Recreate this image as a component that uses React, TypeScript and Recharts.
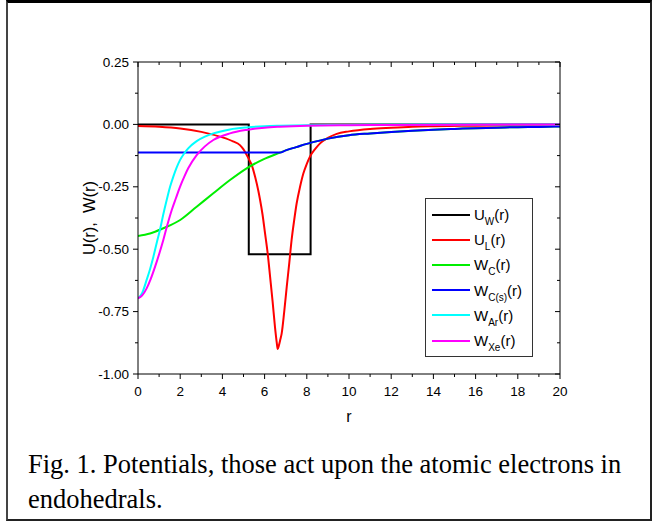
import React from "react";
import { LineChart, Line, XAxis, YAxis, Legend } from "recharts";

// r grid and values, one pair of arrays per curve
const rUW = [0, 5.25, 5.25, 8.18, 8.18, 20];
const vUW = [0, 0, -0.52, -0.52, 0, 0];

const rUL = [0, 1, 2, 3, 3.5, 4, 4.5, 4.83, 5.0, 5.23, 5.4, 5.55, 5.7, 5.78, 5.9, 6.02, 6.15, 6.26, 6.38, 6.49, 6.57, 6.62, 6.68, 6.75, 6.81, 6.93, 7.05, 7.17, 7.28, 7.4, 7.52, 7.68, 7.84, 8.0, 8.15, 8.4, 8.63, 9.0, 9.42, 10, 11, 12, 13, 14, 16, 18, 20];
const vUL = [-0.006, -0.009, -0.016, -0.03, -0.04, -0.052, -0.068, -0.083, -0.1, -0.135, -0.165, -0.21, -0.265, -0.3, -0.36, -0.436, -0.52, -0.61, -0.71, -0.81, -0.87, -0.9, -0.885, -0.86, -0.837, -0.75, -0.65, -0.555, -0.463, -0.385, -0.316, -0.25, -0.196, -0.158, -0.129, -0.098, -0.076, -0.054, -0.038, -0.028, -0.018, -0.013, -0.009, -0.007, -0.005, -0.004, -0.003];

const rWC = [0, 0.57, 1.2, 2, 2.78, 3.57, 4.36, 5.15, 5.94, 6.73, 7, 7.5, 8, 8.5, 9, 10, 11, 12, 13, 14, 15, 16, 17, 18, 19, 20];
const vWC = [-0.447, -0.437, -0.416, -0.383, -0.33, -0.276, -0.223, -0.176, -0.14, -0.113, -0.104, -0.091, -0.078, -0.067, -0.057, -0.043, -0.036, -0.03, -0.025, -0.021, -0.018, -0.015, -0.013, -0.011, -0.01, -0.008];

const rWCs = [0, 6.73, 7, 7.5, 8, 8.5, 9, 10, 11, 12, 13, 14, 15, 16, 17, 18, 19, 20];
const vWCs = [-0.113, -0.113, -0.104, -0.091, -0.078, -0.067, -0.057, -0.043, -0.036, -0.03, -0.025, -0.021, -0.018, -0.015, -0.013, -0.011, -0.01, -0.008];

const rWAr = [0, 0.2, 0.41, 0.57, 0.73, 0.9, 1.04, 1.2, 1.36, 1.52, 1.67, 1.83, 1.99, 2.2, 2.38, 2.78, 3.17, 3.57, 4.36, 5.15, 6, 6.73, 8, 10, 12, 15, 20];
const vWAr = [-0.697, -0.675, -0.623, -0.58, -0.53, -0.47, -0.423, -0.36, -0.303, -0.25, -0.21, -0.173, -0.143, -0.115, -0.096, -0.067, -0.049, -0.036, -0.02, -0.012, -0.007, -0.005, -0.003, -0.002, -0.001, -0.0005, 0];

const rWXe = [0, 0.2, 0.41, 0.6, 0.81, 1.0, 1.2, 1.4, 1.6, 1.8, 1.99, 2.2, 2.38, 2.78, 3.17, 3.57, 4.36, 5.15, 6, 6.73, 8, 10, 12, 15, 20];
const vWXe = [-0.697, -0.685, -0.657, -0.62, -0.57, -0.52, -0.463, -0.4, -0.343, -0.295, -0.25, -0.208, -0.176, -0.123, -0.088, -0.0625, -0.036, -0.022, -0.013, -0.009, -0.005, -0.003, -0.002, -0.001, -0.0005];

const xTicks = [0, 1, 2, 3, 4, 5, 6, 7, 8, 9, 10, 11, 12, 13, 14, 15, 16, 17, 18, 19, 20];
const yTicks = [-1, -0.875, -0.75, -0.625, -0.5, -0.375, -0.25, -0.125, 0, 0.125, 0.25];

const zip = (rs: number[], vs: number[]) => rs.map((r, i) => ({ r, v: vs[i] }));

const series = [
  { id: "UW", main: "U", sub: "W", color: "#000000", data: zip(rUW, vUW), type: "linear" },
  { id: "UL", main: "U", sub: "L", color: "#ff0000", data: zip(rUL, vUL), type: "monotone" },
  { id: "WC", main: "W", sub: "C", color: "#00ee00", data: zip(rWC, vWC), type: "monotone" },
  { id: "WCs", main: "W", sub: "C(s)", color: "#0000ff", data: zip(rWCs, vWCs), type: "monotone" },
  { id: "WAr", main: "W", sub: "Ar", color: "#00ffff", data: zip(rWAr, vWAr), type: "monotone" },
  { id: "WXe", main: "W", sub: "Xe", color: "#ff00ff", data: zip(rWXe, vWXe), type: "monotone" },
];

const FONT = '"Liberation Sans", Arial, sans-serif';
const isMajorX = (v: number) => v % 2 === 0;
const isMajorY = (v: number) => Math.abs(v * 4 - Math.round(v * 4)) < 1e-6;

const BottomTick = ({ x, y, payload }: any) => {
  const major = isMajorX(payload.value);
  return (
    <g>
      <line x1={x} x2={x} y1={y} y2={y + (major ? 5 : 3)} stroke="#000" />
      {major && (
        <text x={x} y={y + 17} textAnchor="middle" dominantBaseline="central" fontSize={13.5} fontFamily={FONT} fill="#000">
          {payload.value}
        </text>
      )}
    </g>
  );
};

// top/right axes are 1px thick, so the tick anchors sit on the plot edge
const TopTick = ({ x, y, payload }: any) => (
  <line x1={x} x2={x} y1={y} y2={y + (isMajorX(payload.value) ? 5 : 3)} stroke="#000" />
);

const LeftTick = ({ x, y, payload }: any) => {
  const major = isMajorY(payload.value);
  return (
    <g>
      <line x1={x} x2={x - (major ? 5 : 3)} y1={y} y2={y} stroke="#000" />
      {major && (
        <text x={x - 9} y={y} textAnchor="end" dominantBaseline="central" fontSize={13.5} fontFamily={FONT} fill="#000">
          {payload.value.toFixed(2)}
        </text>
      )}
    </g>
  );
};

const RightTick = ({ x, y, payload }: any) => (
  <line x1={x} x2={x - (isMajorY(payload.value) ? 5 : 3)} y1={y} y2={y} stroke="#000" />
);

const renderLegend = () => (
  <div
    style={{
      border: "1px solid #333",
      background: "#fff",
      boxSizing: "border-box",
      width: 108,
      height: 159,
      padding: "3px 0 0 6px",
      fontFamily: FONT,
      fontSize: 15,
      color: "#000",
      textAlign: "left",
    }}
  >
    {series.map((s) => (
      <div key={s.id} style={{ height: 25.2, display: "flex", alignItems: "center" }}>
        <svg width={38} height={4} style={{ marginRight: 4 }}>
          <line x1={0} x2={38} y1={2} y2={2} stroke={s.color} strokeWidth={2} />
        </svg>
        <span style={{ whiteSpace: "nowrap" }}>
          {s.main}
          <span style={{ fontSize: 10, position: "relative", top: 5 }}>{s.sub}</span>
          (r)
        </span>
      </div>
    ))}
  </div>
);

export default function App() {
  return (
    <div style={{ position: "absolute", left: 0, top: 0, width: 658, height: 523, background: "#fff" }}>
      <div
        style={{
          position: "absolute",
          left: 6,
          top: 0,
          width: 646,
          height: 521,
          boxSizing: "border-box",
          borderTop: "3px solid #000",
          borderLeft: "2px solid #444",
          borderRight: "2px solid #222",
          borderBottom: "2px solid #222",
        }}
      />
      <div style={{ position: "absolute", left: 0, top: 0 }}>
        <LineChart width={658} height={523} margin={{ top: 61, right: 97, bottom: 109, left: 78 }}>
          <XAxis
            xAxisId="b"
            dataKey="r"
            type="number"
            domain={[0, 20]}
            ticks={xTicks}
            interval={0}
            height={40}
            tickSize={0}
            tickMargin={0}
            tick={<BottomTick />}
            stroke="#000"
            allowDataOverflow
            label={{
              content: ({ viewBox }: any) => (
                <text x={viewBox.x + viewBox.width / 2} y={viewBox.y + 42} textAnchor="middle" dominantBaseline="central" fontSize={16} fontFamily={FONT} fill="#000">
                  r
                </text>
              ),
            }}
          />
          <XAxis
            xAxisId="t"
            orientation="top"
            dataKey="r"
            type="number"
            domain={[0, 20]}
            ticks={xTicks}
            interval={0}
            height={1}
            tickSize={0}
            tickMargin={0}
            tick={<TopTick />}
            stroke="#000"
            allowDataOverflow
          />
          <YAxis
            yAxisId="l"
            type="number"
            domain={[-1, 0.25]}
            ticks={yTicks}
            interval={0}
            width={60}
            tickSize={0}
            tickMargin={0}
            tick={<LeftTick />}
            stroke="#000"
            allowDataOverflow
            label={{
              content: ({ viewBox }: any) => {
                const cx = viewBox.x + 11;
                const cy = viewBox.y + viewBox.height / 2;
                return (
                  <text x={cx} y={cy} transform={`rotate(-90, ${cx}, ${cy})`} textAnchor="middle" dominantBaseline="central" fontSize={16.5} fontFamily={FONT} fill="#000" style={{ whiteSpace: "pre" }}>
                    {"U(r),  W(r)"}
                  </text>
                );
              },
            }}
          />
          <YAxis
            yAxisId="rt"
            orientation="right"
            type="number"
            domain={[-1, 0.25]}
            ticks={yTicks}
            interval={0}
            width={1}
            tickSize={0}
            tickMargin={0}
            tick={<RightTick />}
            stroke="#000"
            allowDataOverflow
          />
          <Legend
            layout="vertical"
            align="center"
            verticalAlign="middle"
            content={renderLegend}
            wrapperStyle={{ position: "absolute", left: 425, top: 198, width: 108, height: 159 }}
          />
          {series.map((s) => (
            <Line
              key={s.id}
              xAxisId="b"
              yAxisId="l"
              data={s.data}
              dataKey="v"
              name={s.id}
              type={s.type as any}
              stroke={s.color}
              strokeWidth={2}
              dot={false}
              activeDot={false}
              isAnimationActive={false}
            />
          ))}
        </LineChart>
      </div>
      <div
        style={{
          position: "absolute",
          left: 28,
          top: 447,
          width: 620,
          fontFamily: '"Liberation Serif", "Times New Roman", serif',
          fontSize: 26.5,
          lineHeight: "35px",
          color: "#000",
        }}
      >
        Fig. 1. Potentials, those act upon the atomic electrons in endohedrals.
      </div>
    </div>
  );
}
